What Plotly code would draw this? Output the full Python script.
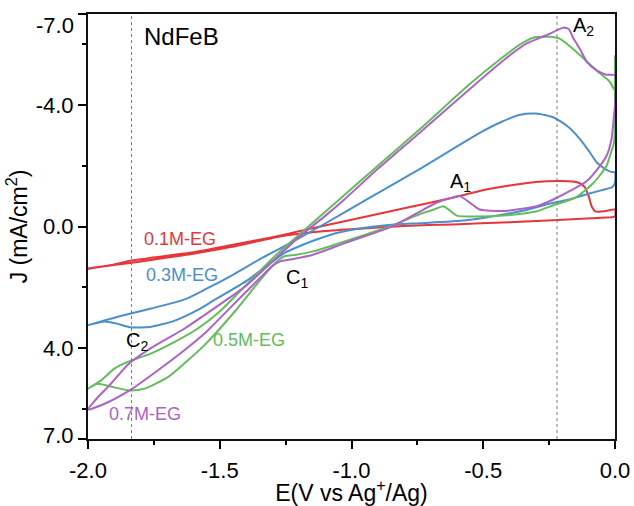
import plotly.graph_objects as go

# ---------------- data (E in V vs Ag+/Ag, J in mA/cm2) ----------------
E_01 = [-2.0, -1.9, -1.84, -1.78, -1.76, -1.6, -1.46, -1.3, -1.17, -1.0, -0.8, -0.6, -0.51, -0.4, -0.3, -0.2,
        -0.14, -0.115, -0.1, -0.088, -0.075, -0.04, 0.0,
        0.0, -0.05, -0.235, -0.4, -0.615, -0.8, -0.97, -1.1, -1.25, -1.46, -1.6, -1.76, -1.84, -1.95, -2.0]
J_01 = [1.38, 1.25, 1.13, 1.06, 1.03, 0.85, 0.62, 0.35, 0.1, -0.22, -0.6, -0.98, -1.18, -1.35, -1.47, -1.5,
        -1.45, -1.3, -1.0, -0.65, -0.5, -0.5, -0.56,
        -0.33, -0.29, -0.21, -0.14, -0.07, -0.02, 0.07, 0.15, 0.3, 0.68, 0.9, 1.1, 1.2, 1.33, 1.4]

E_03 = [-2.0, -1.96, -1.887, -1.76, -1.633, -1.55, -1.462, -1.336, -1.235, -1.12, -0.95, -0.74, -0.51, -0.43,
        -0.36, -0.3, -0.235, -0.18, -0.133, -0.1, -0.068, -0.035, -0.015, 0.0,
        0.0, -0.01, -0.04, -0.1, -0.17, -0.235, -0.35, -0.49, -0.6, -0.74, -0.86, -0.98, -1.06, -1.146, -1.2,
        -1.25, -1.3, -1.4, -1.526, -1.583, -1.67, -1.76, -1.84, -1.89, -1.937, -2.0]
J_03 = [3.25, 3.15, 2.97, 2.7, 2.4, 2.05, 1.65, 1.02, 0.56, 0.0, -0.85, -1.9, -3.1, -3.45,
        -3.68, -3.72, -3.6, -3.3, -2.88, -2.5, -2.1, -1.88, -1.8, -1.78,
        -1.45, -1.3, -1.22, -1.08, -0.9, -0.78, -0.52, -0.3, -0.18, -0.11, -0.05, 0.08, 0.22, 0.47, 0.66,
        0.85, 1.15, 1.8, 2.45, 2.75, 3.1, 3.3, 3.32, 3.2, 3.13, 3.25]

E_05 = [-2.0, -1.95, -1.9, -1.849, -1.76, -1.671, -1.583, -1.5, -1.425, -1.3, -1.17, -1.045, -0.9, -0.74,
        -0.55, -0.424, -0.36, -0.31, -0.247, -0.21, -0.146, -0.07, -0.019, 0.0,
        0.0, 0.0, 0.0, -0.005, -0.013, -0.032, -0.08, -0.15, -0.234, -0.297, -0.424, -0.513, -0.6, -0.63,
        -0.652, -0.69, -0.728, -0.855, -1.0, -1.146, -1.21, -1.254, -1.29, -1.35, -1.443, -1.557, -1.633,
        -1.697, -1.785, -1.842, -1.9, -1.963, -2.0]
J_05 = [5.34, 5.07, 4.68, 4.46, 4.18, 3.8, 3.36, 2.8, 2.15, 1.05, 0.05, -0.9, -2.0, -3.21,
        -4.7, -5.59, -6.0, -6.22, -6.25, -6.19, -5.75, -5.14, -4.76, -4.48,
        -5.64, -4.0, -3.2, -2.7, -2.5, -2.0, -1.45, -0.95, -0.7, -0.5, -0.36, -0.33, -0.36, -0.55,
        -0.67, -0.55, -0.45, 0.0, 0.42, 0.82, 0.93, 0.98, 1.2, 1.8, 2.8, 3.9, 4.5,
        4.96, 5.34, 5.4, 5.3, 5.18, 5.34]

E_07 = [-2.0, -1.96, -1.925, -1.885, -1.849, -1.76, -1.633, -1.557, -1.48, -1.4, -1.3, -1.2, -1.1, -1.026,
        -0.9, -0.74, -0.55, -0.424, -0.335, -0.26, -0.196, -0.175, -0.158, -0.13, -0.107, -0.07, -0.032, 0.0,
        0.0, -0.004, -0.013, -0.032, -0.057, -0.107, -0.171, -0.234, -0.297, -0.424, -0.513, -0.55, -0.589,
        -0.62, -0.676, -0.76, -0.855, -1.02, -1.146, -1.234, -1.27, -1.3, -1.4, -1.557, -1.633, -1.76,
        -1.842, -1.937, -2.0]
J_07 = [6.03, 5.6, 5.29, 4.9, 4.55, 4.0, 3.36, 2.91, 2.45, 1.95, 1.15, 0.35, -0.35, -0.9,
        -1.9, -3.1, -4.54, -5.47, -6.03, -6.3, -6.55, -6.5, -6.2, -5.8, -5.42, -5.14, -5.0, -4.98,
        -4.0, -3.65, -2.88, -2.33, -2.0, -1.5, -1.17, -0.89, -0.67, -0.51, -0.56, -0.78, -1.0,
        -0.95, -0.79, -0.4, 0.03, 0.53, 0.93, 1.09, 1.15, 1.3, 2.15, 3.52, 4.07, 4.9,
        5.4, 5.84, 6.03]

series_names = ["0.1M-EG", "0.3M-EG", "0.5M-EG", "0.7M-EG"]
series_E = [E_01, E_03, E_05, E_07]
series_J = [J_01, J_03, J_05, J_07]
series_colors = ["#E8353A", "#4A8FD0", "#62BD5A", "#AB63C8"]

# label positions (data coords)
label_E = [-1.652, -1.643, -1.39, -1.785]
label_J = [0.40, 1.59, 3.74, 6.19]

peak_text = ["C<sub>1</sub>", "C<sub>2</sub>", "A<sub>1</sub>", "A<sub>2</sub>"]
peak_E = [-1.205, -1.815, -0.585, -0.12]
peak_J = [1.72, 3.80, -1.45, -6.6]

marker_lines_E = [-1.835, -0.22]

x_ticks = [-2.0, -1.5, -1.0, -0.5, 0.0]
x_ticktext = ["-2.0", "-1.5", "-1.0", "-0.5", "0.0"]
x_minor = [-1.75, -1.25, -0.75, -0.25]
y_ticks = [-7, -4, 0, 4, 7]
y_ticktext = ["", "-4.0", "0.0", "4.0", ""]
y_end_labels = ["-7.0", "7.0"]
y_minor = [-6, -2, 2, 6]

FONT = "Liberation Sans, Arial, sans-serif"

fig = go.Figure()
for name, xs, ys, col in zip(series_names, series_E, series_J, series_colors):
    fig.add_trace(go.Scatter(x=xs, y=ys, mode="lines", name=name,
                             line=dict(color=col, width=2, shape="spline", smoothing=0.6),
                             showlegend=False, hoverinfo="skip"))

annotations = []
for name, ex, jy, col in zip(series_names, label_E, label_J, series_colors):
    annotations.append(dict(x=ex, y=jy, xref="x", yref="y", text=name, showarrow=False,
                            font=dict(family=FONT, size=18, color=col)))
for t, ex, jy in zip(peak_text, peak_E, peak_J):
    annotations.append(dict(x=ex, y=jy, xref="x", yref="y", text=t, showarrow=False,
                            font=dict(family=FONT, size=20, color="black")))
annotations.append(dict(x=-1.795, y=-6.25, xref="x", yref="y", text="NdFeB", showarrow=False,
                        xanchor="left", font=dict(family=FONT, size=24, color="black")))
# end labels of the y axis (nudged inward as in the original)
annotations.append(dict(x=0, xref="paper", y=y_ticks[0], yref="y", text=y_end_labels[0], showarrow=False,
                        xanchor="right", xshift=-12, yshift=-11, font=dict(family=FONT, size=22, color="black")))
annotations.append(dict(x=0, xref="paper", y=y_ticks[-1], yref="y", text=y_end_labels[1], showarrow=False,
                        xanchor="right", xshift=-12, yshift=4, font=dict(family=FONT, size=22, color="black")))

shapes = []
for ex in marker_lines_E:
    shapes.append(dict(type="line", xref="x", yref="paper", x0=ex, x1=ex, y0=0, y1=1,
                       line=dict(color="#7a7a7a", width=1, dash="dot")))

fig.update_layout(
    width=634, height=506, autosize=False,
    margin=dict(l=88, r=19, t=14, b=67),
    paper_bgcolor="white", plot_bgcolor="white",
    font=dict(family=FONT, size=22, color="black"),
    annotations=annotations, shapes=shapes,
    xaxis=dict(range=[-2.0, 0.0], tickvals=x_ticks, ticktext=x_ticktext, automargin=False,
               ticks="outside", ticklen=8, tickwidth=2, tickcolor="black", ticklabelstandoff=3,
               showline=True, linecolor="#111", linewidth=2, mirror=True,
               showgrid=False, zeroline=False,
               tickfont=dict(family=FONT, size=22, color="black"),
               title=dict(text="E(V vs Ag<sup>+</sup>/Ag)", font=dict(family=FONT, size=23), standoff=2),
               minor=dict(tickvals=x_minor, ticks="outside", ticklen=4, tickwidth=2, tickcolor="black",
                          showgrid=False)),
    yaxis=dict(range=[7, -7], tickvals=y_ticks, ticktext=y_ticktext, automargin=False,
               ticks="outside", ticklen=8, tickwidth=2, tickcolor="black",
               showline=True, linecolor="#111", linewidth=2, mirror=True,
               showgrid=False, zeroline=False,
               tickfont=dict(family=FONT, size=22, color="black"),
               title=dict(text="J (mA/cm<sup>2</sup>)", font=dict(family=FONT, size=23), standoff=2),
               minor=dict(tickvals=y_minor, ticks="outside", ticklen=4, tickwidth=2, tickcolor="black",
                          showgrid=False)),
)

fig.write_html("out.html", config={"displayModeBar": False},
               post_script="document.body.style.margin='0';document.body.style.padding='0';"
                           "document.body.style.overflow='hidden';")
